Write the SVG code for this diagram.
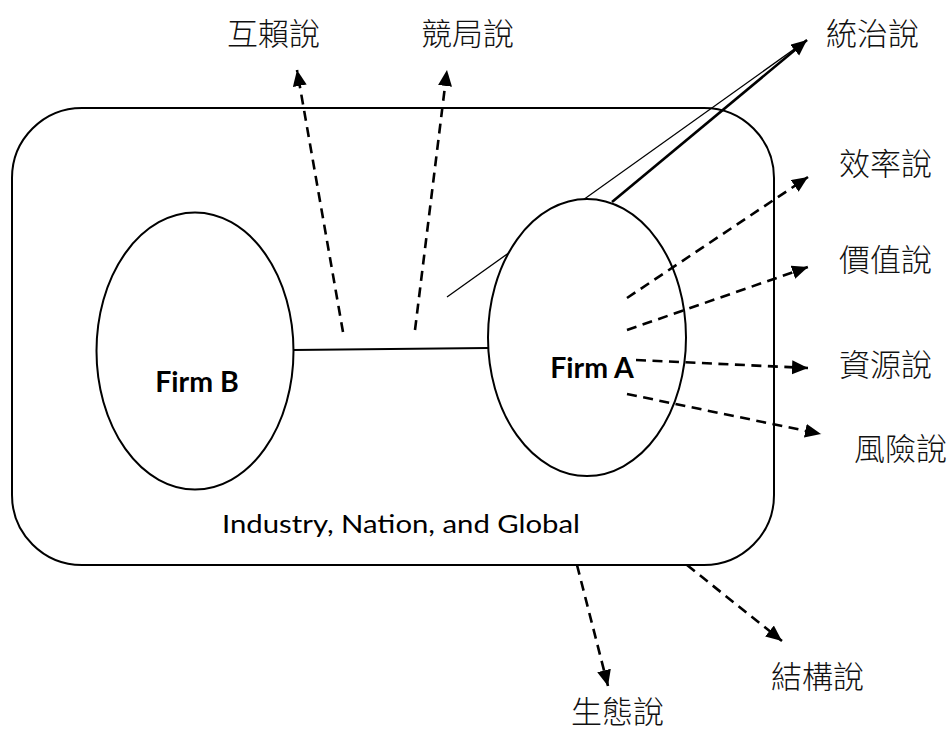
<svg xmlns="http://www.w3.org/2000/svg" width="951" height="733" viewBox="0 0 951 733">
<style>
.cjk{font-family:"Noto Sans CJK TC","Noto Sans CJK SC",sans-serif;font-size:31px;font-weight:300;fill:#111}
.firm{font-family:Lato,"Open Sans",sans-serif;font-size:28.5px;font-weight:bold;fill:#000;text-anchor:middle}
.ctx{font-family:Lato,"Open Sans",sans-serif;font-size:25px;fill:#000}
.shape{fill:#fff;stroke:#000;stroke-width:2}
.dash{fill:none;stroke:#000;stroke-width:2.6;stroke-dasharray:10 6.5}
.solid{fill:none;stroke:#000}
</style>
<defs>
<marker id="ah" markerUnits="userSpaceOnUse" markerWidth="18" markerHeight="16" refX="16" refY="7" orient="auto">
<path d="M0,0 L16,7 L0,14 Z" fill="#000" stroke="none"/>
</marker>
</defs>
<rect width="951" height="733" fill="#fff"/>
<g id="context">
<rect x="12" y="108" width="762" height="457" rx="70" ry="70" class="shape"/>
<text x="222" y="533" class="ctx" textLength="358" lengthAdjust="spacingAndGlyphs">Industry, Nation, and Global</text>
</g>
<g id="connector-under">
<line x1="447" y1="297" x2="807" y2="40" class="solid" stroke-width="1.3"/>
</g>
<g id="firmB">
<ellipse cx="195" cy="351" rx="98.5" ry="138.5" class="shape"/>
<text x="197" y="392" class="firm">Firm B</text>
</g>
<g id="firmA">
<ellipse cx="587" cy="337.5" rx="99" ry="138.5" class="shape"/>
<text x="592" y="378" class="firm">Firm A</text>
</g>
<g id="connectors">
<line x1="293" y1="350" x2="488" y2="348" class="solid" stroke-width="2"/>
<line x1="612" y1="202" x2="807" y2="40" class="solid" stroke-width="2.6" marker-end="url(#ah)"/>
<line x1="343" y1="332" x2="297" y2="70" class="dash" marker-end="url(#ah)"/>
<line x1="415" y1="330" x2="447" y2="70" class="dash" marker-end="url(#ah)"/>
<line x1="627" y1="298" x2="808" y2="177" class="dash" marker-end="url(#ah)"/>
<line x1="627" y1="330" x2="808" y2="267" class="dash" marker-end="url(#ah)"/>
<line x1="636" y1="360" x2="808" y2="368" class="dash" marker-end="url(#ah)"/>
<line x1="627" y1="394" x2="821" y2="434" class="dash" marker-end="url(#ah)"/>
<line x1="577" y1="565" x2="608" y2="686" class="dash" marker-end="url(#ah)"/>
<line x1="687" y1="565" x2="782" y2="641" class="dash" marker-end="url(#ah)"/>
</g>
<g id="labels">
<text x="227" y="45" class="cjk">互賴說</text>
<text x="421" y="45" class="cjk">競局說</text>
<text x="826" y="45" class="cjk">統治說</text>
<text x="839" y="175" class="cjk">效率說</text>
<text x="839" y="271" class="cjk">價值說</text>
<text x="839" y="376" class="cjk">資源說</text>
<text x="854" y="460" class="cjk">風險說</text>
<text x="771" y="688" class="cjk">結構說</text>
<text x="571" y="723" class="cjk">生態說</text>
</g>
</svg>
